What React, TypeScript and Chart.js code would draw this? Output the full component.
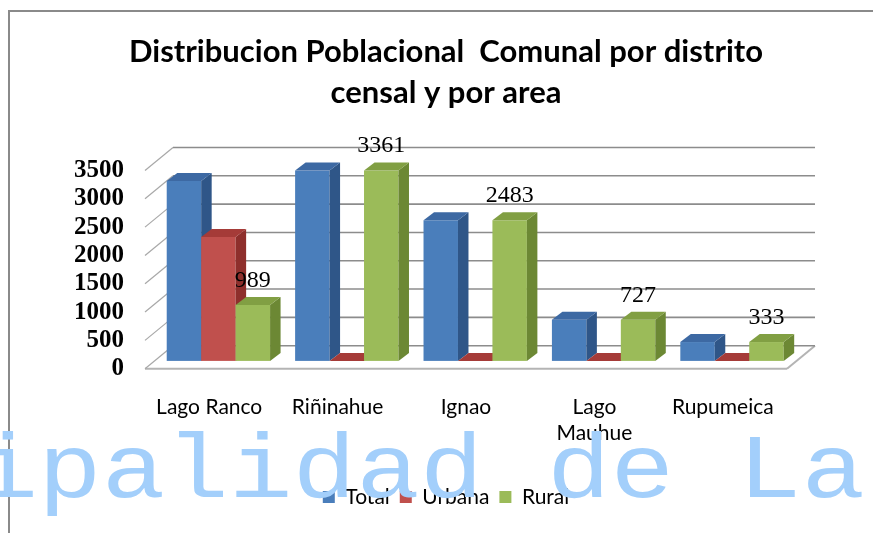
import React, { useEffect, useRef } from 'react';
import { Chart, registerables } from 'chart.js';

Chart.register(...registerables);

// ---- data ----
const categories: (string | string[])[] = ['Lago Ranco', 'Riñinahue', 'Ignao', ['Lago', 'Mauhue'], 'Rupumeica'];
const seriesNames = ['Total', 'Urbana', 'Rural'];
const totalValues = [3179, 3361, 2483, 727, 333];
const urbanaValues = [2190, 0, 0, 0, 0];
const ruralValues = [989, 3361, 2483, 727, 333];
const labeledSeriesIndex = 2;
const yMin = 0;
const yMax = 3500;
const yStep = 500;
const titleLines = ['Distribucion Poblacional  Comunal por distrito', 'censal y por area'];
const watermarkText = 'ipalidad de La';

// ---- styles ----
const faceColors = [
  { front: '#4a7ebb', side: '#2f5688', top: '#3d69a3' },
  { front: '#c0504d', side: '#8e2f2c', top: '#a53b38' },
  { front: '#9bbb59', side: '#6c8834', top: '#819f43' },
];
const WALL = { dx: 28, dy: -23 };
const BAR_OFF = { dx: 9.2, dy: -7.8 };
const BAR_DEPTH = { dx: 10.5, dy: -8 };

function poly(ctx: CanvasRenderingContext2D, pts: number[][], fill: string) {
  ctx.beginPath();
  ctx.moveTo(pts[0][0], pts[0][1]);
  for (let k = 1; k < pts.length; k++) ctx.lineTo(pts[k][0], pts[k][1]);
  ctx.closePath();
  ctx.fillStyle = fill;
  ctx.fill();
}

function line(ctx: CanvasRenderingContext2D, x1: number, y1: number, x2: number, y2: number) {
  ctx.beginPath();
  ctx.moveTo(x1, y1);
  ctx.lineTo(x2, y2);
  ctx.stroke();
}

const threeDPlugin = {
  id: 'threeD',
  beforeDraw(chart: any) {
    const { ctx, width, height } = chart;
    ctx.save();
    ctx.fillStyle = '#ffffff';
    ctx.fillRect(0, 0, width, height);
    ctx.strokeStyle = '#8a8a8a';
    ctx.lineWidth = 2;
    line(ctx, 8, 11, width, 11);
    line(ctx, 9, 11, 9, height);
    ctx.restore();
  },
  beforeDatasetsDraw(chart: any) {
    const { ctx, chartArea: a, scales } = chart;
    const ys = scales.y;
    ctx.save();
    // floor
    const fy = ys.getPixelForValue(yMin);
    poly(ctx, [[a.left, fy], [a.right, fy], [a.right + WALL.dx, fy + WALL.dy], [a.left + WALL.dx, fy + WALL.dy]], '#ffffff');
    ctx.strokeStyle = '#b4b4b4';
    ctx.lineWidth = 2;
    line(ctx, a.left, fy, a.right, fy);
    line(ctx, a.right, fy, a.right + WALL.dx, fy + WALL.dy);
    // back wall gridlines + side wall diagonals
    for (let v = yMin; v <= yMax; v += yStep) {
      const py = ys.getPixelForValue(v);
      ctx.strokeStyle = '#8c8c8c';
      ctx.lineWidth = 1.6;
      line(ctx, a.left + WALL.dx, py + WALL.dy, a.right + WALL.dx, py + WALL.dy);
      ctx.strokeStyle = '#a8a8a8';
      ctx.lineWidth = 1.2;
      line(ctx, a.left, py, a.left + WALL.dx, py + WALL.dy);
    }
    // bars
    const metas = seriesNames.map((_, i) => chart.getDatasetMeta(i));
    for (let j = 0; j < categories.length; j++) {
      for (let i = 0; i < metas.length; i++) {
        const el = metas[i].data[j];
        if (!el) continue;
        const p = el.getProps(['x', 'y', 'base', 'width'], true);
        const l = p.x - p.width / 2 + BAR_OFF.dx;
        const r = p.x + p.width / 2 + BAR_OFF.dx;
        const t = p.y + BAR_OFF.dy;
        const b = p.base + BAR_OFF.dy;
        const c = faceColors[i];
        ctx.fillStyle = c.front;
        ctx.fillRect(l, t, r - l, b - t);
        poly(ctx, [[r, t], [r + BAR_DEPTH.dx, t + BAR_DEPTH.dy], [r + BAR_DEPTH.dx, b + BAR_DEPTH.dy], [r, b]], c.side);
        poly(ctx, [[l, t], [r, t], [r + BAR_DEPTH.dx, t + BAR_DEPTH.dy], [l + BAR_DEPTH.dx, t + BAR_DEPTH.dy]], c.top);
      }
    }
    // data labels
    const lm = metas[labeledSeriesIndex];
    ctx.fillStyle = '#000000';
    ctx.font = '24px "Liberation Serif"';
    ctx.textAlign = 'center';
    ctx.textBaseline = 'middle';
    lm.data.forEach((el: any, j: number) => {
      const p = el.getProps(['x', 'y'], true);
      ctx.fillText(String(ruralValues[j]), p.x + BAR_OFF.dx, p.y + BAR_OFF.dy - 24.5);
    });
    ctx.restore();
    return false;
  },
  afterDraw(chart: any) {
    const { ctx } = chart;
    ctx.save();
    ctx.fillStyle = '#a3cffb';
    ctx.font = '106px "Liberation Mono"';
    ctx.textAlign = 'left';
    ctx.textBaseline = 'alphabetic';
    ctx.translate(0, 497);
    ctx.scale(1, 0.85);
    ctx.fillText(watermarkText, -25.5, 0);
    ctx.restore();
  },
};

export default function App() {
  const ref = useRef<HTMLCanvasElement | null>(null);
  useEffect(() => {
    if (!ref.current) return;
    const chart = new Chart(ref.current, {
      type: 'bar',
      data: {
        labels: categories as any,
        datasets: [
          { label: seriesNames[0], data: totalValues, backgroundColor: faceColors[0].front, borderWidth: 0 },
          { label: seriesNames[1], data: urbanaValues, backgroundColor: faceColors[1].front, borderWidth: 0 },
          { label: seriesNames[2], data: ruralValues, backgroundColor: faceColors[2].front, borderWidth: 0 },
        ],
      },
      options: {
        animation: false,
        responsive: false,
        devicePixelRatio: 1,
        datasets: { bar: { barPercentage: 1, categoryPercentage: 0.805 } },
        layout: { padding: { left: 19, right: 0, top: 0, bottom: 15.4 } },
        scales: {
          x: {
            grid: { display: false, drawTicks: false },
            border: { display: false },
            ticks: {
              color: '#000',
              font: { family: 'Lato', size: 21, lineHeight: 1.25 },
              padding: 25.5,
              autoSkip: false,
              maxRotation: 0,
              minRotation: 0,
            },
            afterFit: (s: any) => { s.height = 107.9; },
          },
          y: {
            type: 'linear',
            min: yMin,
            max: yMax,
            grid: { display: false, drawTicks: false },
            border: { display: false },
            ticks: {
              stepSize: yStep,
              autoSkip: false,
              color: '#000',
              padding: 21,
              font: { family: 'Liberation Serif', size: 25, weight: 'bold' },
              callback: (v: any) => String(v),
            },
            afterFit: (s: any) => { s.width = 126; },
          },
          y2: {
            type: 'linear',
            position: 'right',
            display: true,
            grid: { display: false, drawTicks: false },
            border: { display: false },
            ticks: { display: false },
            afterFit: (s: any) => { s.width = 86; },
          },
        },
        plugins: {
          title: {
            display: true,
            text: titleLines,
            color: '#000',
            font: { family: 'Lato', size: 31, weight: 'bold', lineHeight: 41 / 31 },
            padding: { top: 31.5, bottom: 57 },
          },
          legend: {
            position: 'bottom',
            labels: {
              color: '#000',
              font: { family: 'Lato', size: 21 },
              boxWidth: 12,
              boxHeight: 12,
              padding: 10,
            },
          },
          tooltip: { enabled: false },
        },
      } as any,
      plugins: [threeDPlugin as any],
    });
    return () => chart.destroy();
  }, []);
  return (
    <div style={{ position: 'fixed', left: 0, top: 0, width: 873, height: 533 }}>
      <canvas ref={ref} width={873} height={533} style={{ display: 'block' }} />
    </div>
  );
}
